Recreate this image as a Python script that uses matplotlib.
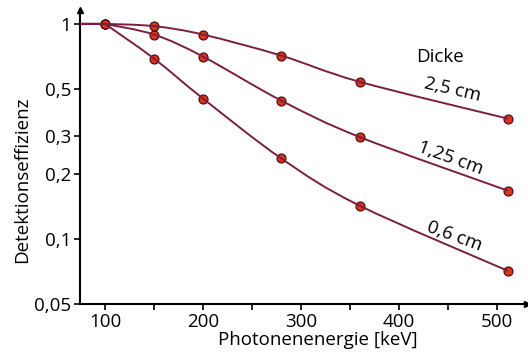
import matplotlib.pyplot as plt
from matplotlib.path import Path
from matplotlib.patches import PathPatch
from matplotlib.ticker import FixedLocator, NullFormatter, NullLocator
import numpy as np

plt.rcParams['font.family'] = ['Open Sans', 'DejaVu Sans']

energy = [100, 150, 200, 280, 360, 511]
eff_25 = [1.0, 0.976, 0.892, 0.712, 0.538, 0.363]
eff_125 = [1.0, 0.892, 0.705, 0.440, 0.298, 0.168]
eff_06 = [1.0, 0.690, 0.450, 0.237, 0.143, 0.0713]
thickness = ["2,5 cm", "1,25 cm", "0,6 cm"]
ytick_vals = [0.05, 0.1, 0.2, 0.3, 0.5, 1]
ytick_labels = ["0,05", "0,1", "0,2", "0,3", "0,5", "1"]
xtick_vals = [100, 200, 300, 400, 500]
xminor_vals = [150, 250, 350, 450]

line_col = '#7b1f3e'
dot_col = '#e0321a'

W, H = 528, 354
fig = plt.figure(figsize=(W / 100, H / 100), dpi=100)
ax = fig.add_axes([80 / W, 50 / H, (527 - 80) / W, (304 - 10) / H])
ax.set_yscale('log')
x0, x1 = 74.5, 530.6
ax.set_xlim(x0, x1)
ax.set_ylim(0.05, 1.16)


def smooth_path(xs, ys, start_x):
    # flat lead-in from the axis, then Catmull-Rom -> cubic bezier
    # (in log space of y so the curve is smooth on the log axis)
    px = np.array(xs, dtype=float)
    py = np.log10(np.array(ys, dtype=float))
    verts = [(start_x, py[0]), (px[0], py[0])]
    codes = [Path.MOVETO, Path.LINETO]
    n = len(px)
    for i in range(n - 1):
        p0 = (px[max(i - 1, 0)], py[max(i - 1, 0)])
        p1 = (px[i], py[i])
        p2 = (px[i + 1], py[i + 1])
        p3 = (px[min(i + 2, n - 1)], py[min(i + 2, n - 1)])
        c1 = (p1[0] + (p2[0] - p0[0]) / 6, p1[1] + (p2[1] - p0[1]) / 6)
        c2 = (p2[0] - (p3[0] - p1[0]) / 6, p2[1] - (p3[1] - p1[1]) / 6)
        verts += [c1, c2, p2]
        codes += [Path.CURVE4] * 3
    verts = [(vx, 10 ** vy) for vx, vy in verts]
    return Path(verts, codes)


for series in [eff_25, eff_125, eff_06]:
    ax.plot(energy, series, 'o', ms=6.5, mfc=dot_col, mec='#3a0a0a',
            mew=0.8, zorder=3, clip_on=False)
    patch = PathPatch(smooth_path(energy, series, x0),
                      fill=False, ec=line_col, lw=1.4, zorder=4)
    ax.add_patch(patch)

ax.yaxis.set_major_locator(FixedLocator(ytick_vals))
ax.yaxis.set_minor_locator(NullLocator())
ax.set_yticklabels(ytick_labels)
ax.yaxis.set_minor_formatter(NullFormatter())
ax.set_xticks(xtick_vals)
ax.set_xticks(xminor_vals, minor=True)

for s in ['top', 'right']:
    ax.spines[s].set_visible(False)
for s in ['left', 'bottom']:
    ax.spines[s].set_linewidth(1.5)
ax.tick_params(which='both', direction='out', length=4.5, width=1.2,
               labelsize=13.5, pad=2)

ax.plot(1, 0, '>', ms=5, color='black', transform=ax.transAxes,
        clip_on=False)
ax.plot(0, 1, '^', ms=5, color='black', transform=ax.transAxes,
        clip_on=False)

fig.text(22 / W, 1 - 180 / H, "Detektionseffizienz", rotation=90,
         ha='center', va='center', fontsize=13.5)
fig.text(318 / W, 1 - 340 / H, "Photonenenergie [keV]", ha='center',
         va='center', fontsize=13.5)

fig.text(440 / W, 1 - 57 / H, "Dicke", ha='center', va='center',
         fontsize=13.5)
label_pos = [(453, 90, -13), (450, 158, -20), (454, 236, -20)]
for lab, (lx, ly, rot) in zip(thickness, label_pos):
    fig.text(lx / W, 1 - ly / H, lab, ha='center', va='center',
             rotation=rot, fontsize=13.5)

fig.savefig('out.png', dpi=100)
